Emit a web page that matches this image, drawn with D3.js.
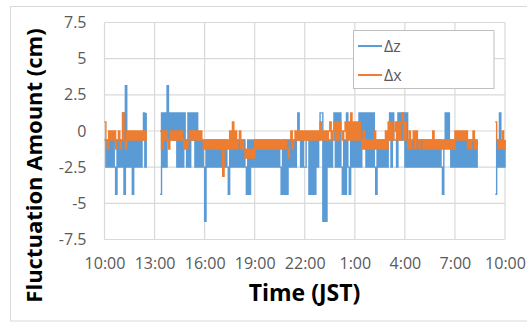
<!DOCTYPE html>
<html>
<head>
<meta charset="utf-8">
<script src="https://cdn.jsdelivr.net/npm/d3@7"></script>
<style>
  body { margin: 0; background: #fff; }
  svg { display: block; font-family: "Open Sans", sans-serif; }
</style>
</head>
<body>
<svg id="chart" width="527" height="322"></svg>
<script>
// x axis: minutes after 10:00 JST, ticks every 3 hours
const xTickMinutes = [0, 180, 360, 540, 720, 900, 1080, 1260, 1440];
const xTickLabels = ['10:00', '13:00', '16:00', '19:00', '22:00', '1:00', '4:00', '7:00', '10:00'];
const yTicks = [-7.5, -5, -2.5, 0, 2.5, 5, 7.5];
const yTickLabels = ['-7.5', '-5', '-2.5', '0', '2.5', '5', '7.5'];

const seriesNames = ['\u0394z', '\u0394x'];
const seriesColors = ['#5b9bd5', '#ed7d31'];

// readings every 5 minutes, stored as level codes ('.' = no data)
const sampleStep = 5;
const dzLevels = [3.125, 1.25, -0.625, -2.5, -4.375, -6.25];
const dxLevels = [1.25, 0.625, 0, -0.625, -1.25, -1.875, -2.5, -3.125];

const dzCodes = [
  '232323234232', // 10:00
  '314032324232', // 11:00
  '3232131.....', // 12:00
  '....41313021', // 13:00
  '212131313123', // 14:00
  '131213132323', // 15:00
  '523232323232', // 16:00
  '323234232323', // 17:00
  '232323424232', // 18:00
  '323232323232', // 19:00
  '323232342424', // 20:00
  '232323212323', // 21:00
  '322424242321', // 22:00
  '152523232131', // 23:00
  '313424134232', // 0:00
  '323131213131', // 1:00
  '313423232323', // 2:00
  '213122312121', // 3:00
  '313232323232', // 4:00
  '323232323232', // 5:00
  '323421212323', // 6:00
  '232323232323', // 7:00
  '23232.......', // 8:00
  '.....4231323', // 9:00
  '2'
].join('');

const dxCodes = [
  '134232324324', // 10:00
  '303423232323', // 11:00
  '2323232.....', // 12:00
  '....24232342', // 13:00
  '323232323434', // 14:00
  '323232323234', // 15:00
  '343434343434', // 16:00
  '373434241424', // 17:00
  '324345454545', // 18:00
  '343434343434', // 19:00
  '343434343434', // 20:00
  '532432323232', // 21:00
  '323232323231', // 22:00
  '323232132131', // 23:00
  '312321313031', // 0:00
  '313134243434', // 1:00
  '342434343424', // 2:00
  '131321313103', // 3:00
  '134243242343', // 4:00
  '343434342434', // 5:00
  '343434343434', // 6:00
  '232323232434', // 7:00
  '32434.......', // 8:00
  '.....1343424', // 9:00
  '3'
].join('');

function decode(codes, levels) {
  return codes.split('').map((c, i) => ({ t: i * sampleStep, v: c === '.' ? null : levels[+c] }));
}

const series = [decode(dzCodes, dzLevels), decode(dxCodes, dxLevels)];

const plot = { left: 104.5, right: 505, top: 22.5, bottom: 239.5 };

const svg = d3.select('#chart');

// outer chart frame
svg.append('rect')
  .attr('x', 10.5).attr('y', 6.5)
  .attr('width', 540).attr('height', 314.5)
  .attr('fill', '#fff')
  .attr('stroke', '#d9d9d9');

const x = d3.scaleLinear().domain([0, 1440]).range([plot.left, plot.right]);
const y = d3.scaleLinear().domain([-7.5, 7.5]).range([plot.bottom, plot.top]);

// gridlines
svg.append('g')
  .selectAll('line')
  .data(yTicks)
  .enter()
  .append('line')
  .attr('x1', plot.left).attr('x2', plot.right)
  .attr('y1', d => y(d)).attr('y2', d => y(d))
  .attr('stroke', '#d9d9d9')
  .attr('stroke-width', 1.2);

svg.append('g')
  .selectAll('line')
  .data(xTickMinutes)
  .enter()
  .append('line')
  .attr('x1', d => x(d)).attr('x2', d => x(d))
  .attr('y1', plot.top).attr('y2', plot.bottom)
  .attr('stroke', '#d9d9d9')
  .attr('stroke-width', 1.2);

// axes (labels only)
const yAxis = svg.append('g')
  .attr('transform', 'translate(' + plot.left + ',0)')
  .call(d3.axisLeft(y).tickValues(yTicks).tickSize(0).tickPadding(18)
    .tickFormat((d, i) => yTickLabels[i]));

const xAxis = svg.append('g')
  .attr('transform', 'translate(0,' + plot.bottom + ')')
  .call(d3.axisBottom(x).tickValues(xTickMinutes).tickSize(0).tickPadding(18)
    .tickFormat((d, i) => xTickLabels[i]));

[yAxis, xAxis].forEach(a => {
  a.select('.domain').remove();
  a.selectAll('text')
    .style('font-family', '"Open Sans", sans-serif')
    .style('font-size', '16px')
    .attr('fill', '#595959');
});

// series lines, Δz first so Δx sits on top
// step curve: readings change in jumps, so each value holds until the next one
const line = d3.line()
  .defined(d => d.v !== null)
  .curve(d3.curveStepAfter)
  .x(d => x(d.t))
  .y(d => y(d.v));

series.forEach((s, i) => {
  svg.append('path')
    .datum(s)
    .attr('d', line)
    .style('fill', 'none')
    .style('stroke', seriesColors[i])
    .style('stroke-width', 1.4);
});

// legend
const legend = svg.append('g');
legend.append('rect')
  .attr('x', 353.5).attr('y', 30.5)
  .attr('width', 140.5).attr('height', 58)
  .attr('fill', '#fff')
  .attr('stroke', '#bfbfbf');

seriesNames.forEach((name, i) => {
  const ly = 46 + i * 29;
  legend.append('line')
    .attr('x1', 358).attr('x2', 382)
    .attr('y1', ly).attr('y2', ly)
    .attr('stroke', seriesColors[i])
    .attr('stroke-width', 2);
  legend.append('text')
    .attr('x', 384).attr('y', ly)
    .attr('dy', '0.35em')
    .style('font-size', '16px')
    .attr('fill', '#595959')
    .text(name);
});

// axis titles
svg.append('text')
  .attr('transform', 'translate(42,165.5) rotate(-90)')
  .attr('text-anchor', 'middle')
  .style('font-size', '22px')
  .style('font-weight', 'bold')
  .attr('fill', '#000')
  .text('Fluctuation Amount (cm)');

svg.append('text')
  .attr('x', 304.5).attr('y', 301)
  .attr('text-anchor', 'middle')
  .style('font-size', '23px')
  .style('font-weight', 'bold')
  .attr('fill', '#000')
  .text('Time (JST)');
</script>
</body>
</html>
